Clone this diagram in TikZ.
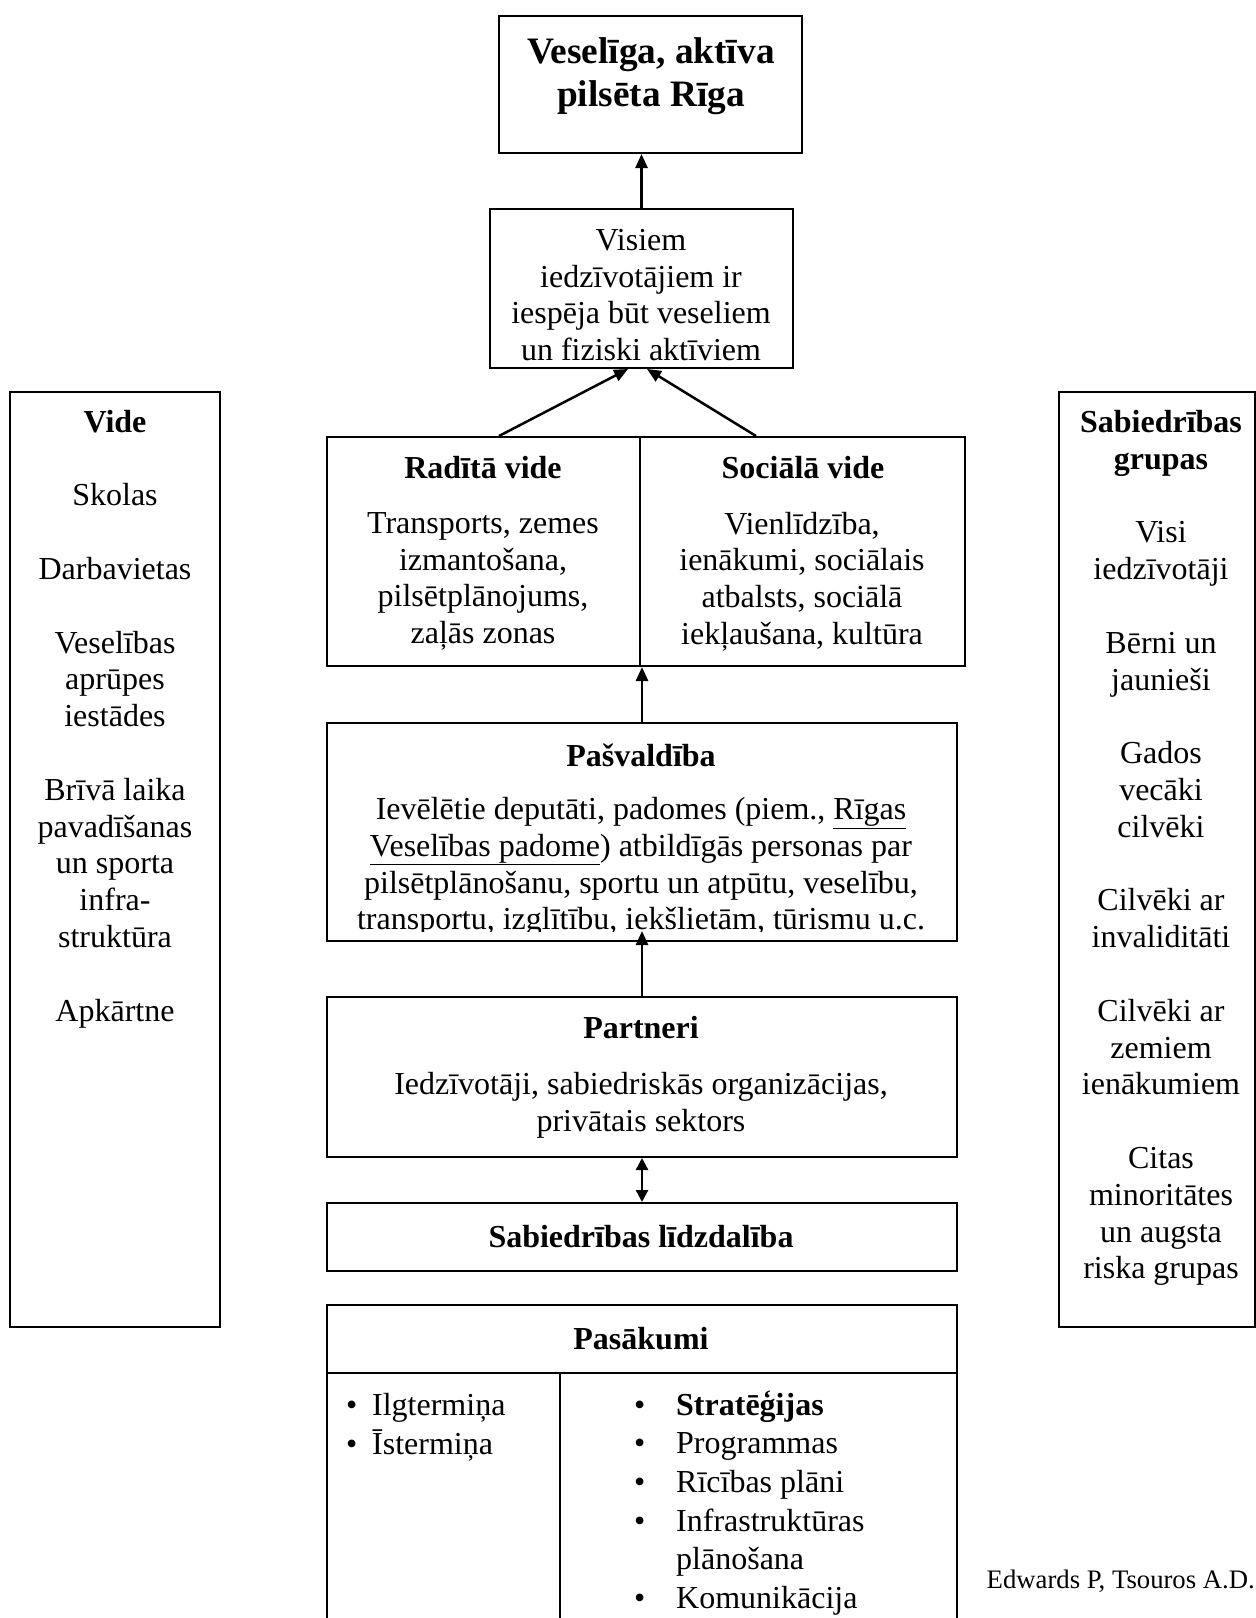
\documentclass[tikz,border=0pt]{standalone}
\usepackage{fontspec}
\setmainfont{Liberation Serif}
\usetikzlibrary{positioning, arrows.meta, calc, fit}

\begin{document}
\begin{tikzpicture}[
  x=1pt, y=-1pt,
  % Box styles
  box/.style={draw, rectangle, line width=2pt, inner sep=0pt},
  txt/.style={align=center, inner sep=0pt, font=\fontsize{32}{36.8}\selectfont},
  headtxt/.style={txt, font=\fontsize{32}{36.8}\selectfont\bfseries},
  titletxt/.style={align=center, inner sep=0pt, font=\fontsize{37.3}{42.9}\selectfont\bfseries},
  listtxt/.style={align=left, inner sep=0pt, font=\fontsize{32}{38.6}\selectfont},
  % Arrow styles
  arr/.style={draw, line width=2.5pt, -{Triangle[length=14pt, width=12pt]}},
  dblarr/.style={draw, line width=2.5pt, {Triangle[length=12pt, width=12pt]}-{Triangle[length=12pt, width=12pt]}}
]
  \useasboundingbox (0,0) rectangle (1256,1618);

  % ==========================================
  % CENTRAL COLUMN
  % ==========================================
  \node[box, fit={(499,16) (802,153)}] (goal) {};
  \node[titletxt] (goaltxt) at (651,76) {Veselīga, aktīva\\pilsēta Rīga};

  \node[box, fit={(490,209) (793,368)}] (visiem) {};
  \node[txt] (visiemtxt) at (641,295) {Visiem\\iedzīvotājiem ir\\iespēja būt veseliem\\un fiziski aktīviem};

  \node[box, fit={(327,437) (640,666)}] (radita) {};
  \node[box, fit={(640,437) (965,666)}] (sociala) {};
  \node[headtxt] (raditahead) at (483,468) {Radītā vide};
  \node[txt] (raditatxt) at (483,581.5) {Transports, zemes\\izmantošana,\\pilsētplānojums,\\zaļās zonas};
  \node[headtxt] (socialahead) at (803,468) {Sociālā vide};
  \node[txt] (socialatxt) at (802,581.5) {Vienlīdzība,\\ienākumi, sociālais\\atbalsts, sociālā\\iekļaušana, kultūra};

  \node[box, fit={(327,723) (957,941)}] (pasv) {};
  \node[headtxt] (pasvhead) at (641,755) {Pašvaldība};
  \begin{scope}
    \clip (327,723) rectangle (957,931);
    \node[txt] (pasvtxt) at (641,867) {Ievēlētie deputāti, padomes (piem., \underline{Rīgas}\\\underline{Veselības padome}) atbildīgās personas par\\pilsētplānošanu, sportu un atpūtu, veselību,\\transportu, izglītību, iekšlietām, tūrismu u.c.};
  \end{scope}

  \node[box, fit={(327,997) (957,1157)}] (partn) {};
  \node[headtxt] (partnhead) at (641,1028) {Partneri};
  \node[txt] (partntxt) at (641,1105) {Iedzīvotāji, sabiedriskās organizācijas,\\privātais sektors};

  \node[box, fit={(327,1203) (957,1271)}] (sab) {};
  \node[headtxt] (sabtxt) at (641,1237) {Sabiedrības līdzdalība};

  % Pasakumi table
  \node[box, fit={(327,1305) (957,1632)}] (pasak) {};
  \node[headtxt] (pasakhead) at (641,1339) {Pasākumi};
  \draw[line width=2pt] (327,1373) -- (957,1373);
  \draw[line width=2pt] (560,1373) -- (560,1632);
  \node[listtxt, anchor=west] (termini) at (346,1427) {\makebox[26pt][l]{•}Ilgtermiņa\\\makebox[26pt][l]{•}Īstermiņa};
  \node[listtxt, anchor=west] (plani) at (634,1503) {\makebox[42pt][l]{•}\textbf{Stratēģijas}\\\makebox[42pt][l]{•}Programmas\\\makebox[42pt][l]{•}Rīcības plāni\\\makebox[42pt][l]{•}Infrastruktūras\\\hspace*{42pt}plānošana\\\makebox[42pt][l]{•}Komunikācija};

  \draw[arr] (visiem.north) -- (visiem.north |- goal.south);
  \draw[arr] ($(radita.north)+(15.5,0)$) -- ($(visiem.south)+(-13.5,0)$);
  \draw[arr] ($(sociala.north)+(-46.5,0)$) -- ($(visiem.south)+(5.5,0)$);
  \draw[arr] (pasv.north) -- (pasv.north |- radita.south);
  \draw[arr, shorten >=-11pt] (partn.north) -- (partn.north |- pasv.south);
  \draw[dblarr] (partn.south) -- (sab.north);

  % ==========================================
  % SIDE COLUMNS
  % ==========================================
  \node[box, fit={(10,392) (220,1327)}] (vide) {};
  \node[txt] (videtxt) at (115,719) {\textbf{Vide}\\[36.8pt]Skolas\\[36.8pt]Darbavietas\\[36.8pt]Veselības\\aprūpes\\iestādes\\[36.8pt]Brīvā laika\\pavadīšanas\\un sporta\\infra-\\struktūra\\[36.8pt]Apkārtne};

  \node[box, fit={(1059,392) (1255,1327)}] (grupas) {};
  \node[txt] (grupastxt) at (1161,848) {\textbf{Sabiedrības}\\\textbf{grupas}\\[36.8pt]Visi\\iedzīvotāji\\[36.8pt]Bērni un\\jaunieši\\[36.8pt]Gados\\vecāki\\cilvēki\\[36.8pt]Cilvēki ar\\invaliditāti\\[36.8pt]Cilvēki ar\\zemiem\\ienākumiem\\[36.8pt]Citas\\minoritātes\\un augsta\\riska grupas};

  % Source
  \node[anchor=base east, inner sep=0pt, font=\fontsize{26.7}{30}\selectfont] (avots) at (1255,1588) {Edwards P, Tsouros A.D.};

\end{tikzpicture}
\end{document}
